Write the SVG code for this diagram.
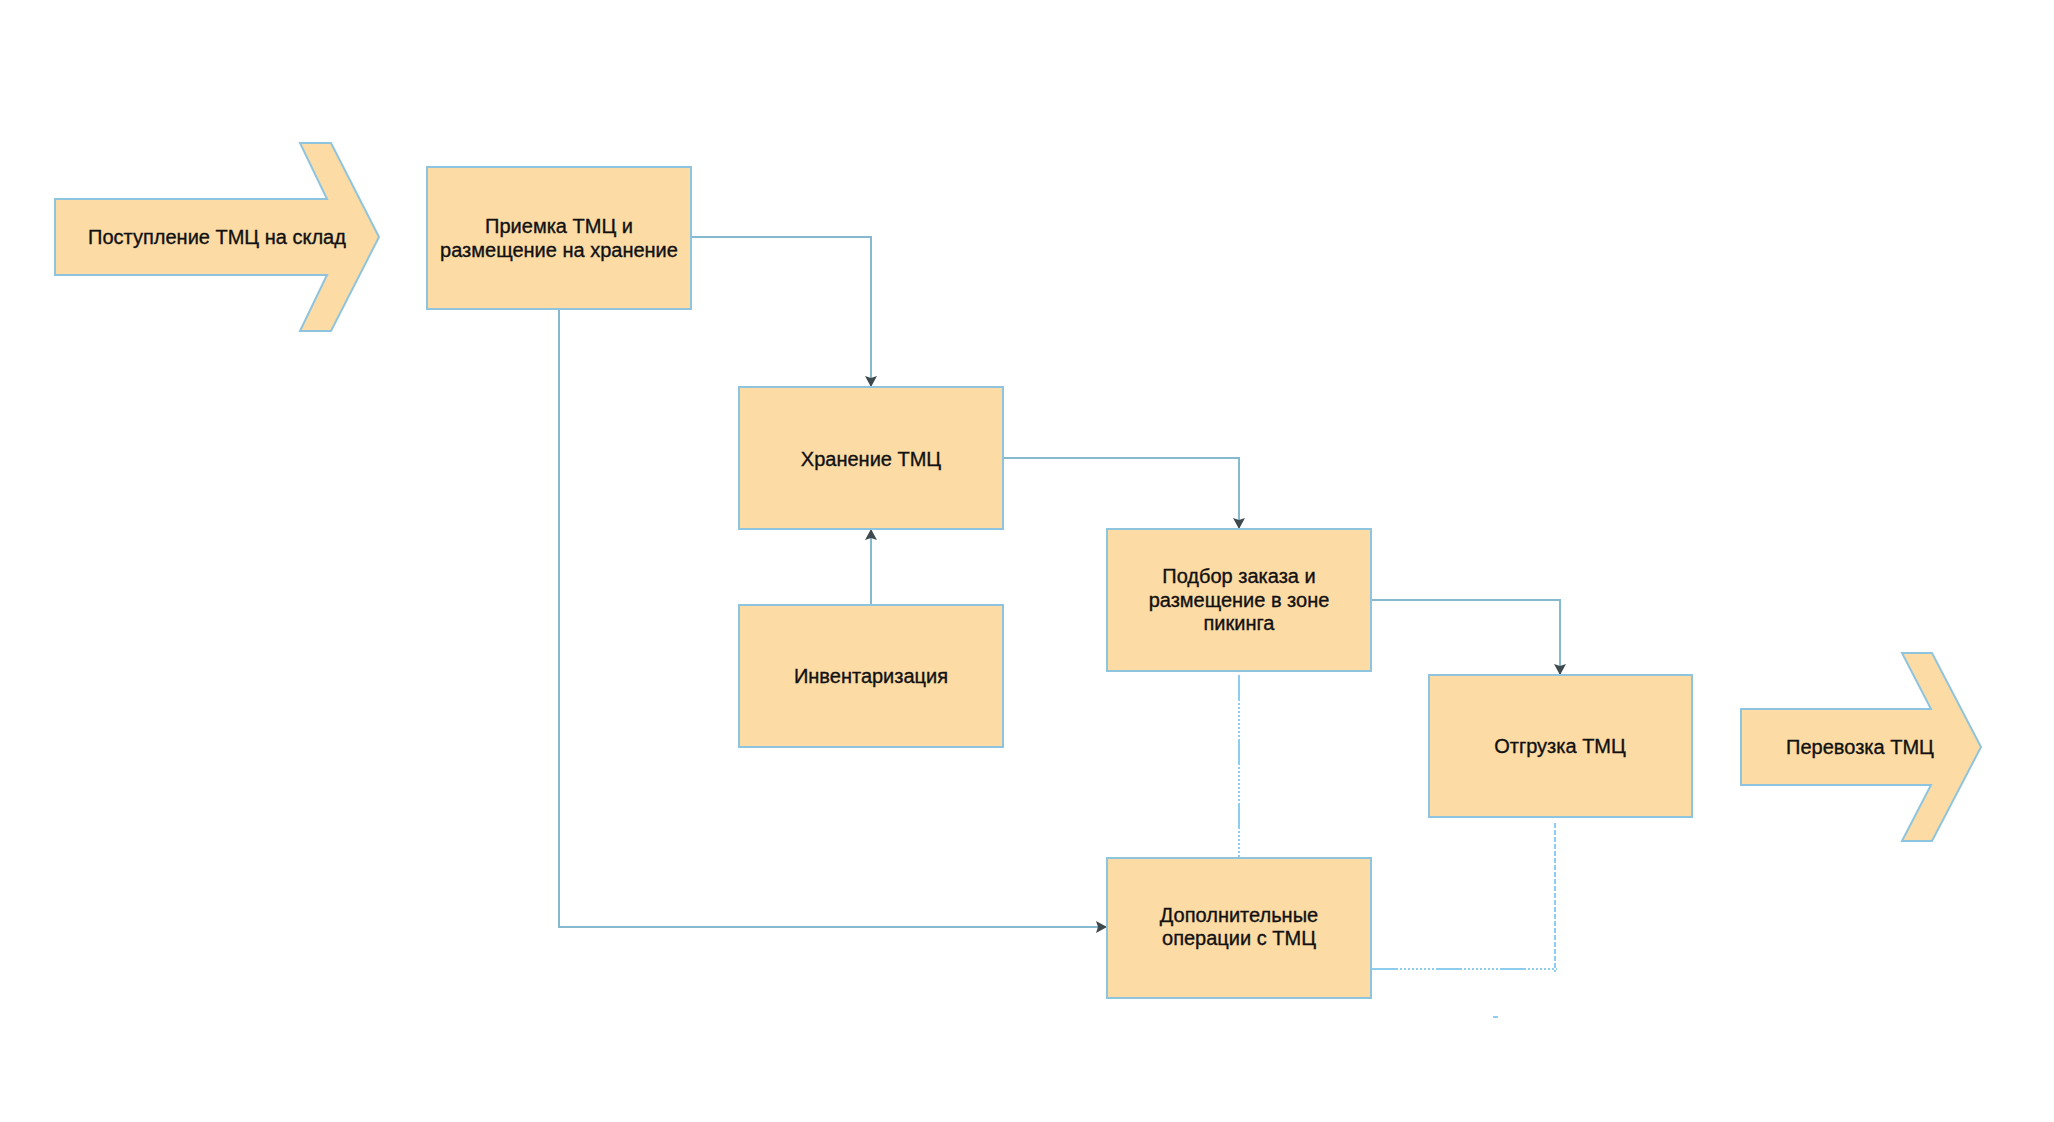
<svg xmlns="http://www.w3.org/2000/svg" width="2054" height="1122" viewBox="0 0 2054 1122">
  <style>
    .node { fill: #fcdba5; stroke: #8fc4de; stroke-width: 2; }
    .label { font-family: "Liberation Sans", Arial, sans-serif; font-size: 20px; fill: #111; stroke: #111; stroke-width: 0.35; text-anchor: middle; }
    .conn { fill: none; stroke: #86b9cd; stroke-width: 2; }
    .dash { fill: none; stroke: #8dcdf0; stroke-width: 2; stroke-dasharray: 26 2 2 2 2 2 2 2 2 2 2 2 2 2 2 2 2 2 2 2; }
    .dash2 { fill: none; stroke: #8dcdf0; stroke-width: 2; stroke-dasharray: 5 2; }
  </style>
  <defs>
    <marker id="arrow" viewBox="0 0 11 12" refX="11" refY="6" markerWidth="11" markerHeight="12" markerUnits="userSpaceOnUse" orient="auto">
      <path d="M0,0 L11,6 L0,12 L2,6 z" fill="#3f4a4e"/>
    </marker>
  </defs>
  <rect width="2054" height="1122" fill="#ffffff"/>

  <g id="connectors">
    <path class="conn" d="M691,237 H871 V387" marker-end="url(#arrow)"/>
    <path class="conn" d="M1003,458 H1239 V529" marker-end="url(#arrow)"/>
    <path class="conn" d="M1371,600 H1560 V675" marker-end="url(#arrow)"/>
    <path class="conn" d="M871,605 V529" marker-end="url(#arrow)"/>
    <path class="conn" d="M559,309 V927 H1107" marker-end="url(#arrow)"/>
    <path class="dash" d="M1239,675 V860"/>
    <path class="dash2" d="M1555,823 V972"/>
    <path class="dash" d="M1372,969 H1557"/>
    <path class="dash2" d="M1493,1017 H1498"/>
  </g>

  <g id="n_postuplenie">
    <polygon class="node" points="55,199 327,199 300,143 331,143 379,237 331,331 300,331 327,275 55,275"/>
    <text class="label" x="217" y="244">Поступление ТМЦ на склад</text>
  </g>

  <g id="n_priemka">
    <rect class="node" x="427" y="167" width="264" height="142"/>
    <text class="label" x="559" y="233">Приемка ТМЦ и</text>
    <text class="label" x="559" y="257">размещение на хранение</text>
  </g>

  <g id="n_hranenie">
    <rect class="node" x="739" y="387" width="264" height="142"/>
    <text class="label" x="871" y="466">Хранение ТМЦ</text>
  </g>

  <g id="n_inventarizaciya">
    <rect class="node" x="739" y="605" width="264" height="142"/>
    <text class="label" x="871" y="683">Инвентаризация</text>
  </g>

  <g id="n_podbor">
    <rect class="node" x="1107" y="529" width="264" height="142"/>
    <text class="label" x="1239" y="583">Подбор заказа и</text>
    <text class="label" x="1239" y="607">размещение в зоне</text>
    <text class="label" x="1239" y="630">пикинга</text>
  </g>

  <g id="n_dopolnitelnye">
    <rect class="node" x="1107" y="858" width="264" height="140"/>
    <text class="label" x="1239" y="922">Дополнительные</text>
    <text class="label" x="1239" y="945">операции с ТМЦ</text>
  </g>

  <g id="n_otgruzka">
    <rect class="node" x="1429" y="675" width="263" height="142"/>
    <text class="label" x="1560" y="753">Отгрузка ТМЦ</text>
  </g>

  <g id="n_perevozka">
    <polygon class="node" points="1741,709 1931,709 1902,653 1932,653 1981,747 1932,841 1902,841 1931,785 1741,785"/>
    <text class="label" x="1860" y="754">Перевозка ТМЦ</text>
  </g>
</svg>
